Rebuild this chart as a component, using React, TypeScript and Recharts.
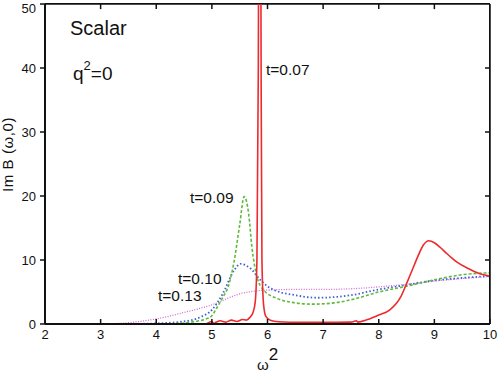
import React from 'react'
import { LineChart, Line, XAxis, YAxis, ReferenceLine } from 'recharts'

// omega^2 ticks and Im B ticks
const xTicks = [2, 3, 4, 5, 6, 7, 8, 9, 10]
const yTicks = [0, 10, 20, 30, 40, 50]

// t=0.07 (red, solid) - sharp spike near 5.86, broad bump near 8.9
const t007: [number, number][] = [
  [2, 0], [4, 0], [4.9, 0.05], [5.0, 0.4], [5.03, 0.1], [5.08, 0.3], [5.15, 0.5], [5.25, 0.3],
  [5.35, 0.6], [5.45, 0.4], [5.55, 0.7], [5.62, 0.6], [5.68, 1.0], [5.74, 1.8], [5.78, 3.5],
  [5.81, 10], [5.835, 40], [5.845, 70], [5.875, 70], [5.885, 40], [5.9, 10], [5.93, 3],
  [5.97, 1.2], [6.05, 0.6], [6.2, 0.35], [6.6, 0.25], [7.0, 0.25], [7.5, 0.3], [7.6, 0.5],
  [7.62, 0.3], [7.8, 0.7], [8.0, 1.4], [8.2, 2.2], [8.4, 4.3], [8.5, 6.3], [8.6, 8.4],
  [8.7, 10.5], [8.8, 12.3], [8.9, 13.0], [9.0, 12.7], [9.1, 12.0], [9.2, 11.2], [9.3, 10.4],
  [9.4, 9.7], [9.6, 8.7], [9.8, 7.9], [10, 7.5],
]

// t=0.09 (green, dashed)
const t009: [number, number][] = [
  [4.0, 0], [4.4, 0.1], [4.7, 0.4], [4.9, 0.8], [5.0, 1.3], [5.1, 2.7], [5.2, 4.2], [5.3, 6.0],
  [5.4, 9.8], [5.5, 15.5], [5.58, 19.9], [5.66, 17.3], [5.72, 12], [5.81, 7.4], [5.93, 5.3],
  [6.17, 4.0], [6.5, 3.3], [6.8, 3.1], [7.2, 3.3], [7.6, 4.0], [8.0, 5.0], [8.5, 5.9],
  [9.0, 6.9], [9.5, 7.7], [10, 8.0],
]

// t=0.10 (blue, dotted)
const t010: [number, number][] = [
  [3.5, 0], [4.0, 0.1], [4.5, 0.4], [4.8, 1.1], [5.0, 2.2], [5.2, 4.8], [5.4, 8.4], [5.52, 9.4],
  [5.69, 8.7], [5.87, 6.9], [6.05, 5.6], [6.5, 4.5], [6.9, 4.1], [7.5, 4.5], [8.0, 5.4],
  [8.5, 6.1], [9.0, 6.8], [9.5, 7.2], [10, 7.5],
]

// t=0.13 (magenta, fine dotted)
const t013: [number, number][] = [
  [3.0, 0], [3.5, 0.2], [4.0, 0.8], [4.5, 1.8], [5.0, 3.0], [5.5, 4.7], [6.0, 5.3], [6.5, 5.4],
  [7.0, 5.4], [7.5, 5.5], [8.0, 5.8], [8.5, 6.2], [9.0, 6.7], [9.5, 7.1], [10, 7.4],
]

const toRows = (pts: [number, number][]) => pts.map(([x, y]) => ({ x, y }))

const font = '"Liberation Sans", Arial, sans-serif'
const ink = '#111'
// inward tick length of the top/right frame, in data units (~5px)
const tickY = 0.8
const tickX = 0.09

export default function App() {
  return (
    <div style={{ position: 'absolute', left: 0, top: 0, width: 499, height: 373, background: '#fff', fontFamily: font }}>
      <LineChart width={499} height={373} margin={{ top: 4, right: 9, bottom: 0, left: 0 }}>
        {/* bottom axis: negative tickSize draws ticks inward, tickMargin pushes labels back out */}
        <XAxis
          dataKey="x"
          type="number"
          domain={[2, 10]}
          ticks={xTicks}
          allowDataOverflow
          height={49}
          tickSize={-5}
          tickMargin={11}
          axisLine={{ stroke: ink, strokeWidth: 2 }}
          tickLine={{ stroke: ink, strokeWidth: 1.5 }}
          tick={{ fill: ink, fontSize: 13, fontFamily: font }}
        />
        <YAxis
          type="number"
          domain={[0, 50]}
          ticks={yTicks}
          allowDataOverflow
          width={45}
          tickSize={5}
          tickMargin={4}
          axisLine={{ stroke: ink, strokeWidth: 2 }}
          tickLine={{ stroke: ink, strokeWidth: 1.5 }}
          tick={{ fill: ink, fontSize: 13, fontFamily: font }}
        />

        {/* box frame: top and right edges with inward ticks */}
        <ReferenceLine y={50} stroke={ink} strokeWidth={1.5} ifOverflow="visible" />
        <ReferenceLine x={10} stroke={ink} strokeWidth={1.5} ifOverflow="visible" />
        {xTicks.slice(1, -1).map((t) => (
          <ReferenceLine key={`tx${t}`} segment={[{ x: t, y: 50 }, { x: t, y: 50 - tickY }]}
            stroke={ink} strokeWidth={1.5} ifOverflow="visible" />
        ))}
        {yTicks.slice(1, -1).map((t) => (
          <ReferenceLine key={`ty${t}`} segment={[{ x: 10, y: t }, { x: 10 - tickX, y: t }]}
            stroke={ink} strokeWidth={1.5} ifOverflow="visible" />
        ))}

        <Line data={toRows(t013)} dataKey="y" type="monotone" stroke="#d46ad4"
          strokeWidth={1.3} strokeDasharray="1 1.5" dot={false} isAnimationActive={false} />
        <Line data={toRows(t010)} dataKey="y" type="monotone" stroke="#3d5ed8"
          strokeWidth={1.8} strokeDasharray="1.5 2.2" dot={false} isAnimationActive={false} />
        <Line data={toRows(t009)} dataKey="y" type="monotone" stroke="#5dbb3a"
          strokeWidth={1.6} strokeDasharray="3 2" dot={false} isAnimationActive={false} />
        <Line data={toRows(t007)} dataKey="y" type="monotone" stroke="#ee2a2e"
          strokeWidth={1.6} dot={false} isAnimationActive={false} />
      </LineChart>

      {/* frame border fallback over the plot area */}
      <div style={{ position: 'absolute', left: 45, top: 3, width: 445, height: 321, borderTop: `1.5px solid ${ink}`,
        borderRight: `1.5px solid ${ink}`, boxSizing: 'border-box', pointerEvents: 'none' }} />

      <svg width={499} height={373} style={{ position: 'absolute', left: 0, top: 0, pointerEvents: 'none' }}
        fontFamily={font} fill={ink}>
        <text x={70} y={35} fontSize={20}>Scalar</text>
        <text x={73} y={80} fontSize={19}>
          q<tspan dy={-10} fontSize={13}>2</tspan><tspan dy={10}>=0</tspan>
        </text>
        <text x={266} y={75} fontSize={15.5}>t=0.07</text>
        <text x={190} y={203} fontSize={15.5}>t=0.09</text>
        <text x={178} y={284} fontSize={15.5}>t=0.10</text>
        <text x={158} y={301} fontSize={15.5}>t=0.13</text>
        <text x={13} y={154.5} fontSize={15} textAnchor="middle" transform="rotate(-90 13 154.5)"
          letterSpacing={0.6}>Im B (ω,0)</text>
        <text x={257} y={370} fontSize={15}>
          ω<tspan dy={-10} fontSize={17}>2</tspan>
        </text>
      </svg>
    </div>
  )
}
